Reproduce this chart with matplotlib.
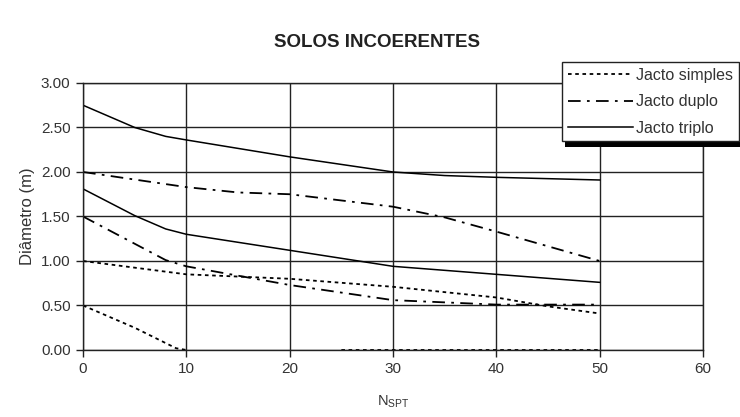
import matplotlib.pyplot as plt
from matplotlib.patches import Rectangle

plt.rcParams['font.family'] = ['Liberation Sans', 'DejaVu Sans']
plt.rcParams['mathtext.fontset'] = 'custom'
plt.rcParams['mathtext.rm'] = 'Liberation Sans'

# Jacto simples (curvas superior e inferior)
simples_sup_x = [0, 10, 20, 30, 40, 45, 50]
simples_sup_y = [1.00, 0.85, 0.80, 0.71, 0.59, 0.49, 0.41]
simples_inf_x = [0, 5, 9, 10, None, 25, 50]
simples_inf_y = [0.50, 0.25, 0.02, 0.00, None, 0.00, 0.00]

# Jacto duplo
duplo_sup_x = [0, 10, 15, 20, 30, 35, 40, 50]
duplo_sup_y = [2.00, 1.83, 1.77, 1.75, 1.61, 1.49, 1.33, 1.00]
duplo_inf_x = [0, 8, 10, 20, 30, 40, 50]
duplo_inf_y = [1.50, 1.01, 0.94, 0.73, 0.56, 0.51, 0.51]

# Jacto triplo
triplo_sup_x = [0, 5, 8, 10, 20, 30, 35, 40, 50]
triplo_sup_y = [2.75, 2.50, 2.40, 2.36, 2.17, 2.00, 1.96, 1.94, 1.91]
triplo_inf_x = [0, 5, 8, 10, 20, 30, 40, 50]
triplo_inf_y = [1.81, 1.51, 1.36, 1.30, 1.12, 0.94, 0.85, 0.76]

xticks = [0, 10, 20, 30, 40, 50, 60]
yticks = [0.0, 0.5, 1.0, 1.5, 2.0, 2.5, 3.0]


def clean(xs, ys):
    return ([float('nan') if v is None else v for v in xs],
            [float('nan') if v is None else v for v in ys])


fig = plt.figure(figsize=(7.4, 4.17), dpi=100)
ax = fig.add_axes([0.1122, 0.1607, 0.8378, 0.6403])

st_simples = (0, (2, 2))
st_duplo = (0, (7, 3.5, 1.5, 3.5))
lw = 1.3

x, y = clean(simples_sup_x, simples_sup_y)
ax.plot(x, y, color='black', lw=lw, linestyle=st_simples, label='Jacto simples')
x, y = clean(simples_inf_x, simples_inf_y)
ax.plot(x, y, color='black', lw=lw, linestyle=st_simples)
ax.plot(duplo_sup_x, duplo_sup_y, color='black', lw=lw, linestyle=st_duplo, label='Jacto duplo')
ax.plot(duplo_inf_x, duplo_inf_y, color='black', lw=lw, linestyle=st_duplo)
ax.plot(triplo_sup_x, triplo_sup_y, color='black', lw=1.1, label='Jacto triplo')
ax.plot(triplo_inf_x, triplo_inf_y, color='black', lw=1.1)

ax.set_xlim(0, 60)
ax.set_ylim(0, 3)
ax.set_xticks(xticks)
ax.set_yticks(yticks)
ax.set_yticklabels([f'{v:.2f}' for v in yticks])
ax.grid(True, color='#222222', lw=1.0)
for s in ax.spines.values():
    s.set_color('#222222')
    s.set_linewidth(1.0)
ax.tick_params(direction='out', length=5, width=1, color='#222222',
               labelsize=11, labelcolor='#333333', pad=4)

ax.set_ylabel('Diâmetro (m)', fontsize=12, color='#333333', labelpad=4)
ax.set_xlabel(r'N$_{\mathrm{SPT}}$', fontsize=10.5, color='#333333', labelpad=12)
fig.text(0.51, 0.898, 'SOLOS INCOERENTES', ha='center', va='center',
         fontsize=13.5, fontweight='bold', color='#222222')

leg = fig.legend(loc='upper left', bbox_to_anchor=(0.7595, 0.851), fontsize=11.5,
                 handlelength=4.1, handletextpad=0.2, labelspacing=0.72,
                 borderpad=0.35, borderaxespad=0, frameon=True, fancybox=False,
                 framealpha=1.0)
leg.get_frame().set_edgecolor('#222222')
leg.get_frame().set_facecolor('white')
leg.get_frame().set_linewidth(1.0)
leg.set_zorder(6)
for t in leg.get_texts():
    t.set_color('#333333')

# sombra preta deslocada por baixo da legenda
fig.canvas.draw()
bb = leg.get_window_extent().transformed(fig.transFigure.inverted())
dx, dy = 3 / 740, 6 / 417
fig.patches.append(Rectangle((bb.x0 + dx, bb.y0 - dy), bb.width, bb.height,
                             transform=fig.transFigure, facecolor='black',
                             edgecolor='none', zorder=5.5))

fig.savefig('out.png', dpi=100)
